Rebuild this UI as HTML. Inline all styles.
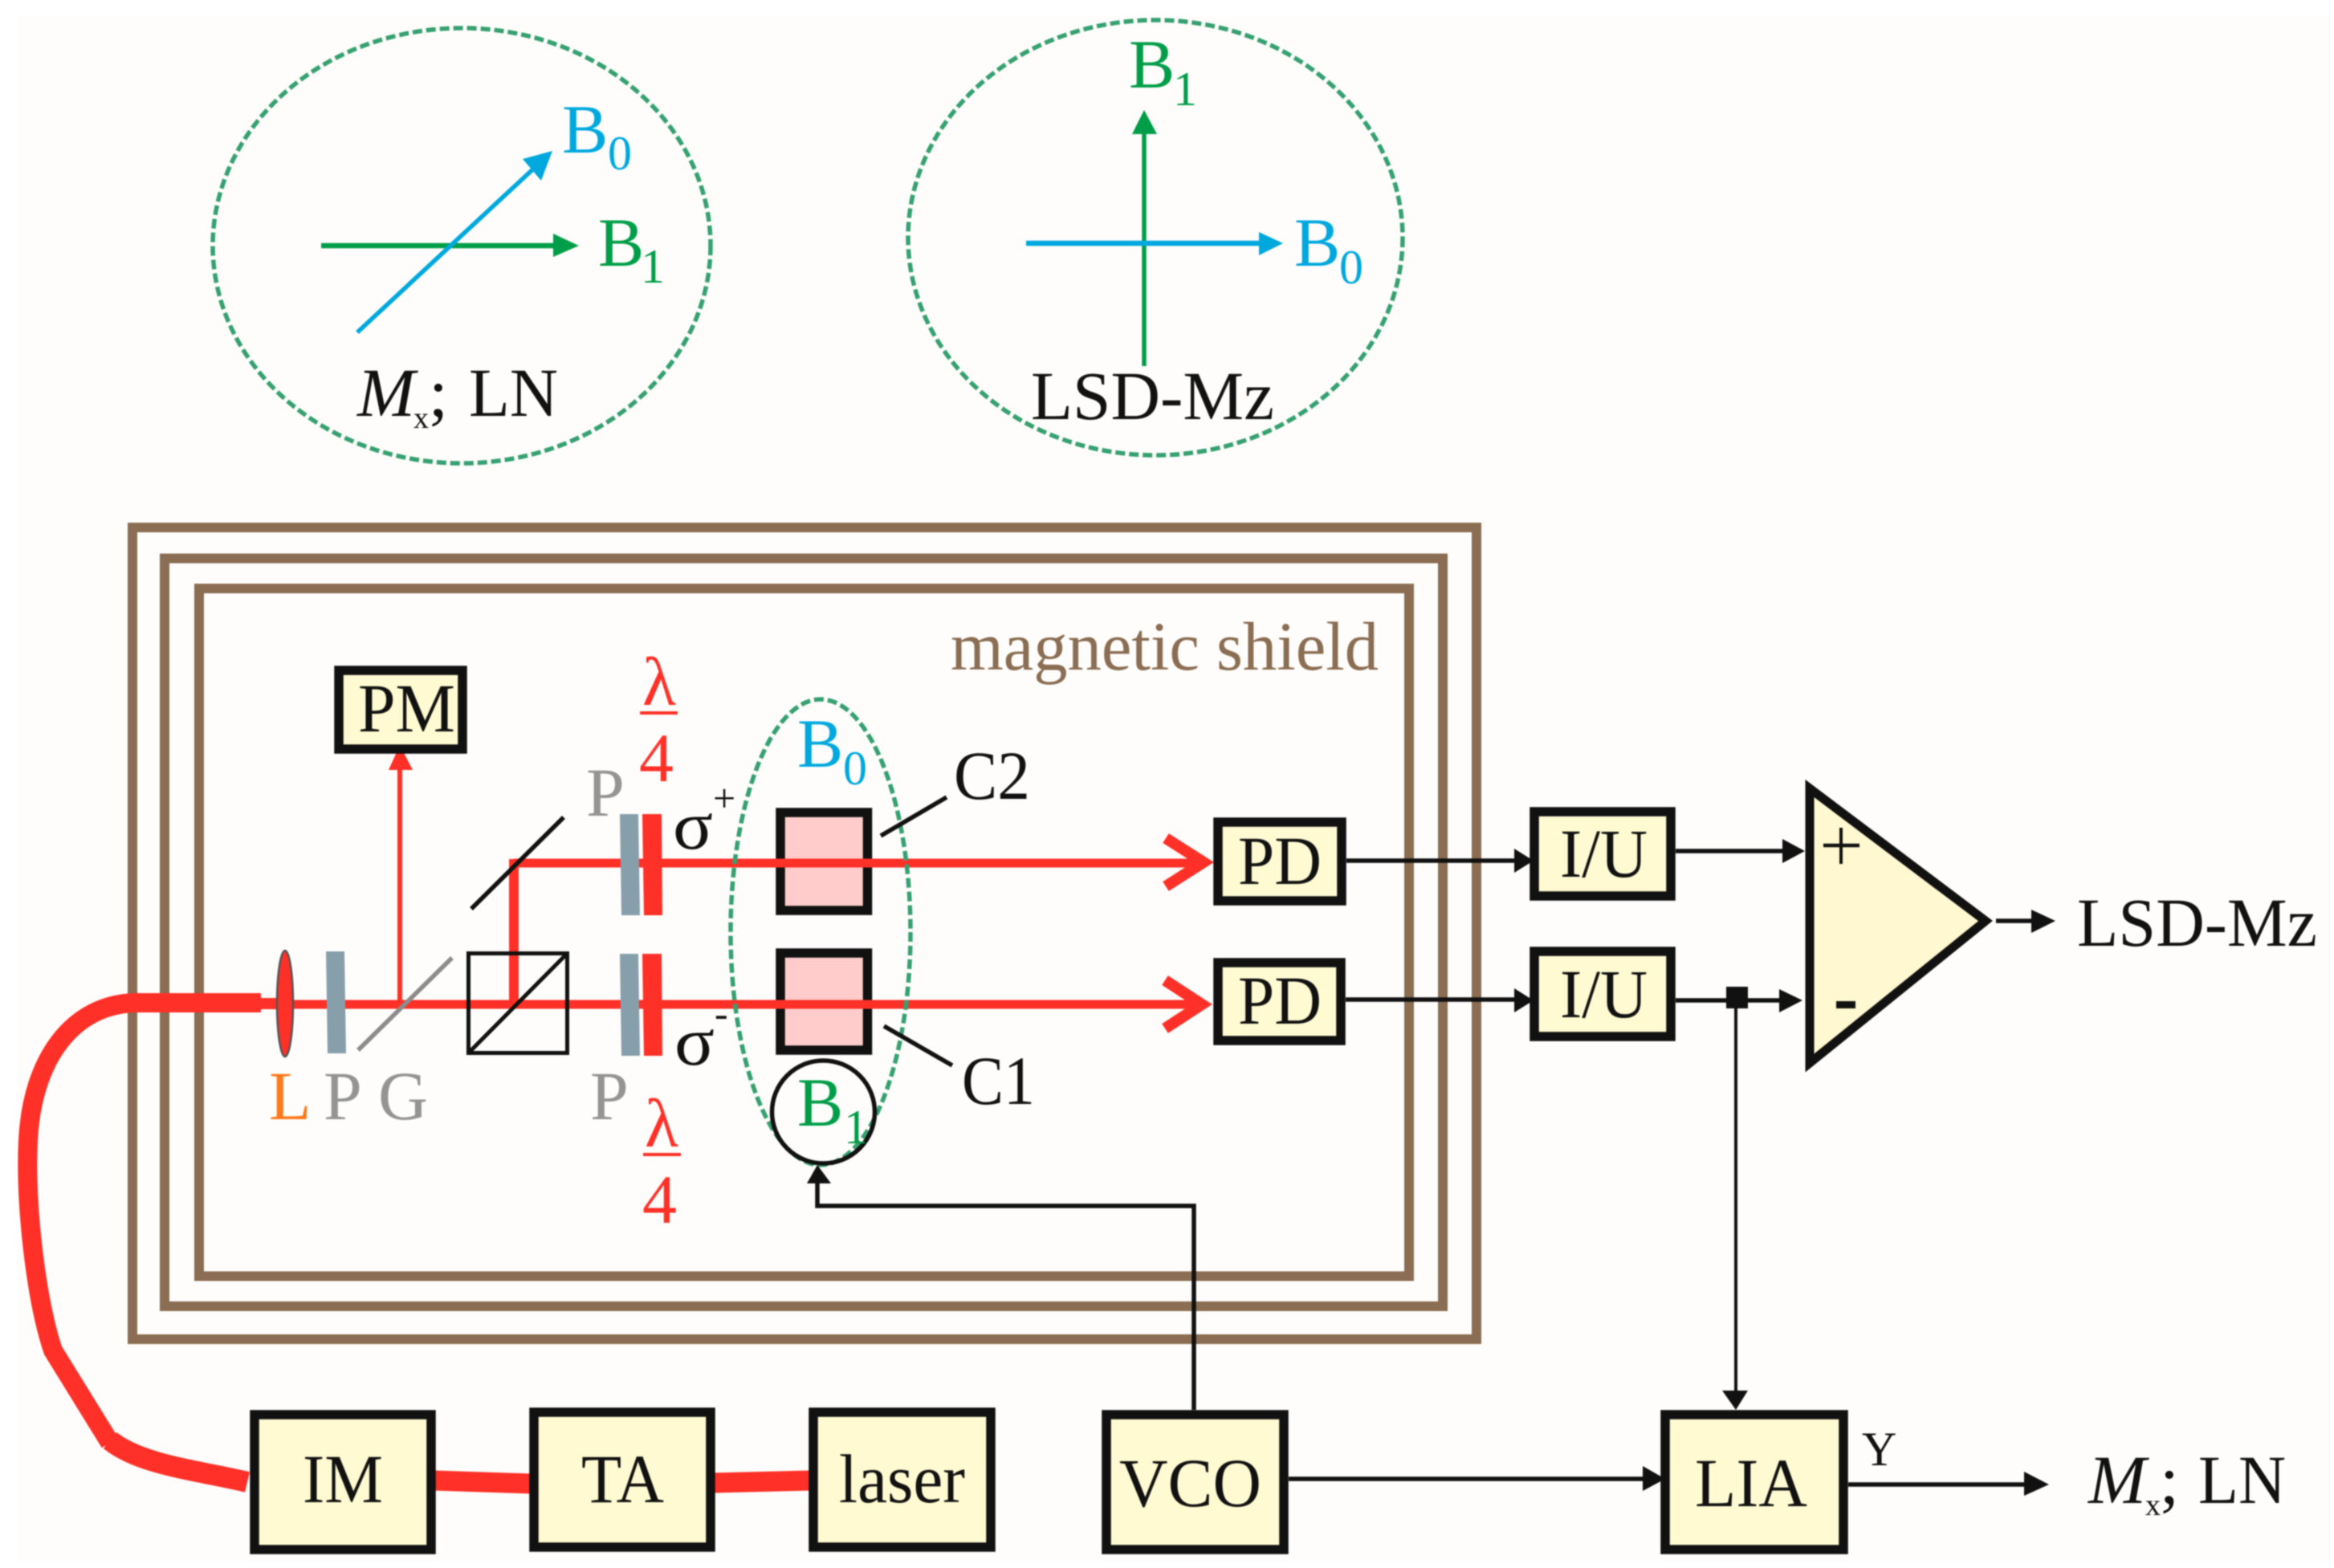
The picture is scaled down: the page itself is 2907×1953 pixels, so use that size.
<!DOCTYPE html>
<html><head><meta charset="utf-8"><style>
html,body{margin:0;padding:0;background:#fff}
svg{display:block;filter:blur(0.7px)}
text{font-family:"Liberation Serif",serif;font-size:86px}
.k{fill:#111}
.b{fill:#00a8de}.g{fill:#009e48}.r{fill:#ff3027}.y{fill:#949494}
.box{fill:#fffad2;stroke:#111;stroke-width:11.5}
.coil{fill:#ffcccb;stroke:#111;stroke-width:11.5}
.sh{fill:none;stroke:#8a6d52;stroke-width:12}
.dash{fill:none;stroke:#35a070;stroke-width:5.5;stroke-dasharray:12 5}
.l{stroke:#111;stroke-width:5.5;fill:none}
.rb{stroke:#ff3027;stroke-width:11;fill:none}
</style></head><body>
<svg xmlns="http://www.w3.org/2000/svg" width="2907" height="1953" viewBox="0 0 2907 1953">
<rect width="2907" height="1953" fill="#fff"/>
<rect x="22" y="20" width="2885" height="1925" fill="#fefdfb"/>

<!-- top ellipses -->
<ellipse class="dash" cx="575" cy="306" rx="310" ry="271"/>
<ellipse class="dash" cx="1439" cy="296" rx="308" ry="271"/>
<line x1="400" y1="306" x2="695" y2="306" stroke="#009e48" stroke-width="6.500"/>
<polygon points="689,291 721,306 689,320" fill="#009e48"/>
<line x1="445" y1="414" x2="670" y2="205" stroke="#00a8de" stroke-width="5.500"/>
<polygon points="688,188 674,225 651,198" fill="#00a8de"/>
<text class="b" x="700" y="190">B</text><text class="b" x="757" y="211" style="font-size:60px">0</text>
<text class="g" x="745" y="331">B</text><text class="g" x="798" y="352" style="font-size:60px">1</text>
<text class="k" x="445" y="518" font-style="italic" textLength="72" lengthAdjust="spacingAndGlyphs">M</text>
<text class="k" x="515" y="533" style="font-size:38px">x</text>
<text class="k" x="534" y="518">;</text>
<text class="k" x="584" y="518" textLength="111" lengthAdjust="spacingAndGlyphs">LN</text>

<line x1="1425" y1="456" x2="1425" y2="160" stroke="#009e48" stroke-width="5.500"/>
<polygon points="1410,167 1425,137 1441,167" fill="#009e48"/>
<line x1="1278" y1="303" x2="1572" y2="303" stroke="#00a8de" stroke-width="6.500"/>
<polygon points="1568,289 1598,303 1568,318" fill="#00a8de"/>
<text class="g" x="1406" y="109">B</text><text class="g" x="1461" y="131" style="font-size:60px">1</text>
<text class="b" x="1612" y="331">B</text><text class="b" x="1668" y="353" style="font-size:60px">0</text>
<text class="k" x="1284" y="522" textLength="303" lengthAdjust="spacingAndGlyphs">LSD-Mz</text>

<!-- magnetic shield -->
<rect class="sh" x="165" y="657" width="1674" height="1011"/>
<rect class="sh" x="205" y="695.500" width="1592" height="931.500"/>
<rect class="sh" x="248" y="733" width="1507" height="856.500"/>
<text x="1184" y="834" fill="#8a6d52" textLength="533" lengthAdjust="spacingAndGlyphs">magnetic shield</text>

<!-- fibre -->
<path d="M137 1797 L66 1682 C45 1620 31 1500 35 1420 C40 1320 90 1250 170 1249 L325 1249" fill="none" stroke="#ff3027" stroke-width="24"/>
<path d="M308 1846 C250 1832 175 1825 137 1794" fill="none" stroke="#ff3027" stroke-width="26"/>
<line x1="540" y1="1844" x2="662" y2="1848" stroke="#ff3027" stroke-width="25"/>
<line x1="888" y1="1847" x2="1010" y2="1844" stroke="#ff3027" stroke-width="25"/>
<line x1="320" y1="1250" x2="345" y2="1250" stroke="#ff3027" stroke-width="14"/>

<!-- beams -->
<line class="rb" x1="345" y1="1251" x2="1500" y2="1251"/>
<line class="rb" x1="640" y1="1075" x2="1500" y2="1075"/>
<line x1="640" y1="1251" x2="640" y2="1070" stroke="#ff3027" stroke-width="12"/>
<polyline points="1452,1044 1499,1074 1452,1104" fill="none" stroke="#ff3027" stroke-width="14"/>
<polyline points="1451,1221 1497,1251 1451,1281" fill="none" stroke="#ff3027" stroke-width="14"/>

<!-- PM branch -->
<line x1="498" y1="1251" x2="498" y2="950" stroke="#ff3027" stroke-width="6"/>
<polygon points="484,959 498,928 514,959" fill="#ff3027"/>
<rect class="box" x="422" y="835" width="154" height="98"/>
<text class="k" x="446" y="911" textLength="121" lengthAdjust="spacingAndGlyphs">PM</text>

<!-- optics -->
<ellipse cx="355" cy="1250" rx="10" ry="66" fill="#ff3027" stroke="#555" stroke-width="2.500"/>
<polygon points="406,1185 429,1185 431,1312 408,1312" fill="#879fab"/>
<line x1="446" y1="1308" x2="563" y2="1193" stroke="#8c8c8c" stroke-width="5.500"/>
<rect x="583.500" y="1187.500" width="123" height="124" fill="none" stroke="#111" stroke-width="5"/>
<line x1="585" y1="1310" x2="706" y2="1188" stroke="#111" stroke-width="5"/>
<line x1="587" y1="1132" x2="702" y2="1018" stroke="#111" stroke-width="5.500"/>
<polygon points="772,1014 795,1014 797,1140 774,1140" fill="#879fab"/>
<polygon points="800,1014 824,1014 825,1140 802,1140" fill="#ff3027"/>
<polygon points="772,1188 795,1188 797,1315 774,1315" fill="#879fab"/>
<polygon points="800,1188 824,1188 825,1315 802,1315" fill="#ff3027"/>

<!-- coils -->
<rect class="coil" x="972" y="1012" width="108.500" height="122"/>
<rect class="coil" x="972" y="1187" width="108.500" height="121"/>
<line class="rb" x1="960" y1="1075" x2="1100" y2="1075"/>
<line class="rb" x1="960" y1="1251" x2="1100" y2="1251"/>
<ellipse class="dash" cx="1022" cy="1161" rx="112" ry="290"/>
<ellipse cx="1025.500" cy="1385" rx="64" ry="64" fill="none" stroke="#111" stroke-width="5.500"/>

<text class="b" x="993" y="955">B</text><text class="b" x="1050" y="977" style="font-size:60px">0</text>
<text class="g" x="993" y="1402">B</text><text class="g" x="1051" y="1424" style="font-size:60px">1</text>

<line class="l" x1="1097" y1="1041" x2="1179" y2="993"/>
<line class="l" x1="1101" y1="1278" x2="1186" y2="1327"/>
<text class="k" x="1188" y="995" textLength="95" lengthAdjust="spacingAndGlyphs">C2</text>
<text class="k" x="1198" y="1375" textLength="91" lengthAdjust="spacingAndGlyphs">C1</text>

<!-- optic labels -->
<text x="730" y="1016" fill="#949494">P</text>
<text x="735" y="1394" fill="#949494">P</text>
<text x="335" y="1394" fill="#ff7a1c">L</text>
<text x="403" y="1394" fill="#949494">P</text>
<text x="471" y="1394" fill="#949494">G</text>
<text class="r" x="800" y="878" textLength="42" lengthAdjust="spacingAndGlyphs">λ</text>
<rect x="797" y="886" width="47" height="4" fill="#ff3027"/>
<text class="r" x="796" y="973">4</text>
<text class="r" x="803" y="1428" textLength="42" lengthAdjust="spacingAndGlyphs">λ</text>
<rect x="801" y="1436" width="47" height="4" fill="#ff3027"/>
<text class="r" x="800" y="1523">4</text>
<text class="k" x="838" y="1057" textLength="50" lengthAdjust="spacingAndGlyphs">σ</text>
<text class="k" x="888" y="1011" style="font-size:50px">+</text>
<text class="k" x="840" y="1326" textLength="50" lengthAdjust="spacingAndGlyphs">σ</text>
<text class="k" x="890" y="1279" style="font-size:50px">-</text>

<!-- VCO to B1 -->
<polyline class="l" points="1487,1756 1487,1502 1018,1502 1018,1470"/>
<polygon points="1005,1474 1018,1451 1035,1474" fill="#111"/>

<!-- PD -->
<rect class="box" x="1517" y="1024" width="154" height="98"/>
<rect class="box" x="1517" y="1199" width="153" height="97"/>
<text class="k" x="1542" y="1101" textLength="104" lengthAdjust="spacingAndGlyphs">PD</text>
<text class="k" x="1542" y="1275" textLength="104" lengthAdjust="spacingAndGlyphs">PD</text>
<line class="l" x1="1677" y1="1072" x2="1890" y2="1072"/>
<polygon points="1886,1057 1910,1072 1886,1087" fill="#111"/>
<line class="l" x1="1676" y1="1245" x2="1890" y2="1245"/>
<polygon points="1886,1231 1910,1246 1886,1261" fill="#111"/>

<!-- I/U -->
<rect class="box" x="1911" y="1011" width="170" height="105"/>
<rect class="box" x="1911" y="1185" width="170" height="106"/>
<text class="k" x="1943" y="1092" textLength="109" lengthAdjust="spacingAndGlyphs">I/U</text>
<text class="k" x="1943" y="1267" textLength="109" lengthAdjust="spacingAndGlyphs">I/U</text>
<line class="l" x1="2087" y1="1060" x2="2225" y2="1060"/>
<polygon points="2220,1045 2248,1060 2220,1075" fill="#111"/>
<line class="l" x1="2087" y1="1246" x2="2220" y2="1246"/>
<polygon points="2216,1232 2245,1246 2216,1261" fill="#111"/>
<rect x="2150" y="1229" width="27" height="27" fill="#111"/>
<line x1="2162" y1="1250" x2="2162" y2="1735" stroke="#111" stroke-width="4"/>
<polygon points="2145,1732 2162,1756 2177,1732" fill="#111"/>

<!-- amplifier -->
<polygon points="2254,982 2473,1147 2254,1324" fill="#fff8d0" stroke="#111" stroke-width="11" stroke-miterlimit="10"/>
<line x1="2271" y1="1053" x2="2316" y2="1053" stroke="#111" stroke-width="4.500"/>
<line x1="2293" y1="1031" x2="2293" y2="1076" stroke="#111" stroke-width="4"/>
<rect x="2287" y="1247" width="24" height="9" fill="#111"/>
<line class="l" x1="2486" y1="1147" x2="2535" y2="1147"/>
<polygon points="2530,1133 2560,1147 2530,1162" fill="#111"/>
<text class="k" x="2587" y="1178" textLength="299" lengthAdjust="spacingAndGlyphs">LSD-Mz</text>

<!-- bottom row -->
<rect class="box" x="317" y="1762" width="220" height="168"/>
<rect class="box" x="665" y="1759" width="220" height="168"/>
<rect class="box" x="1013" y="1759" width="221" height="168"/>
<rect class="box" x="1378" y="1762" width="221" height="168"/>
<rect class="box" x="2074" y="1762" width="222" height="168"/>
<text class="k" x="377" y="1871" textLength="100" lengthAdjust="spacingAndGlyphs">IM</text>
<text class="k" x="724" y="1871" textLength="103" lengthAdjust="spacingAndGlyphs">TA</text>
<text class="k" x="1045" y="1871" textLength="157" lengthAdjust="spacingAndGlyphs">laser</text>
<text class="k" x="1394" y="1876" textLength="177" lengthAdjust="spacingAndGlyphs">VCO</text>
<text class="k" x="2111" y="1876" textLength="140" lengthAdjust="spacingAndGlyphs">LIA</text>
<line class="l" x1="1605" y1="1842" x2="2050" y2="1842"/>
<polygon points="2046,1826 2074,1842 2046,1857" fill="#111"/>
<line class="l" x1="2302" y1="1849" x2="2525" y2="1849"/>
<polygon points="2521,1833 2552,1849 2521,1863" fill="#111"/>
<text class="k" x="2319" y="1825" style="font-size:60px">Y</text>
<text class="k" x="2601" y="1872" font-style="italic" textLength="72" lengthAdjust="spacingAndGlyphs">M</text>
<text class="k" x="2672" y="1887" style="font-size:38px">x</text>
<text class="k" x="2690" y="1872">;</text>
<text class="k" x="2738" y="1872" textLength="109" lengthAdjust="spacingAndGlyphs">LN</text>
</svg>
</body></html>
